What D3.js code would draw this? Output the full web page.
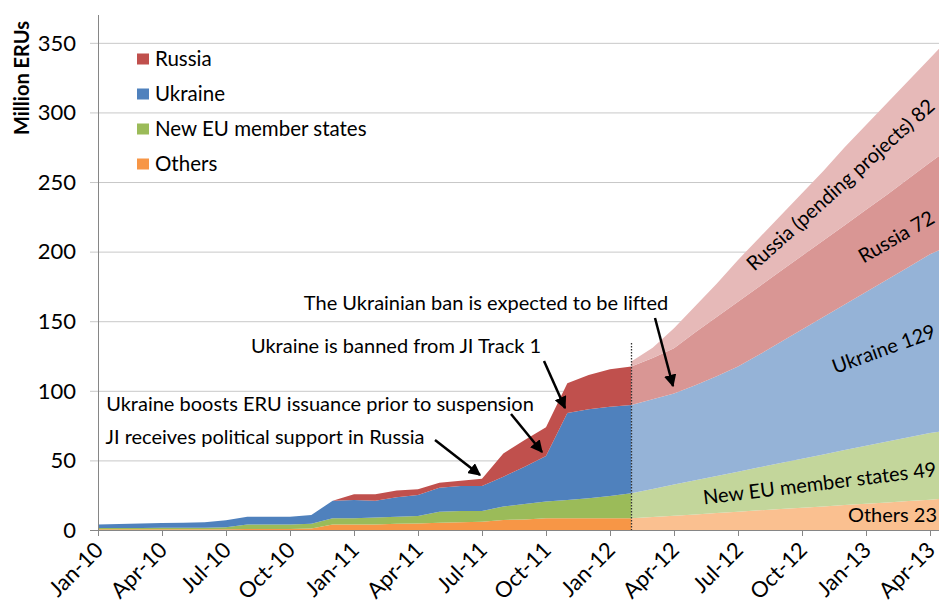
<!DOCTYPE html>
<html>
<head>
<script src="https://cdnjs.cloudflare.com/ajax/libs/d3/7.8.5/d3.min.js"></script>
<style>
  body { margin: 0; background: #fff; }
  svg text { font-family: Lato, "Open Sans", sans-serif; fill: #000; }
  .grid { stroke: #c8c8c8; stroke-width: 1; }
  .axis-line { stroke: #868686; stroke-width: 1; }
</style>
</head>
<body>
<div id="chart"></div>
<script>
const width = 939, height = 608;

// x is a month index: 0 = Jan-10 ... 39 = Apr-13
const tickLabels = ["Jan-10", "Apr-10", "Jul-10", "Oct-10", "Jan-11", "Apr-11", "Jul-11",
                    "Oct-11", "Jan-12", "Apr-12", "Jul-12", "Oct-12", "Jan-13", "Apr-13"];
const yTicks = [0, 50, 100, 150, 200, 250, 300, 350];

// issued ERUs, million (stacked layers), Jan-10 .. Feb-12
const histStart = 0;
const histOthers  = [0.5, 0.5, 0.5, 0.5, 0.5, 0.5, 0.6, 0.8, 0.8, 0.8, 1.0, 4.0, 4.0, 4.0, 4.5, 4.7, 5.2, 5.5, 6.0, 7.2, 7.6, 8.4, 8.4, 8.4, 8.4, 8.4];
const histNewEU   = [1.0, 1.0, 1.0, 1.1, 1.1, 1.2, 1.4, 3.2, 3.2, 3.2, 3.5, 4.4, 4.4, 4.9, 5.1, 5.3, 8.0, 8.2, 7.7, 9.6, 11.1, 12.0, 13.2, 14.4, 16.0, 18.0];
const histUkraine = [2.5, 2.8, 3.2, 3.4, 3.6, 3.8, 5.0, 5.6, 5.6, 5.6, 6.3, 12.6, 13.1, 12.1, 13.9, 15.2, 17.2, 17.9, 17.9, 21.5, 26.8, 32.8, 62.4, 63.9, 64.2, 63.4];
const histRussia  = [0, 0, 0, 0, 0, 0, 0, 0, 0, 0, 0, 0, 4.1, 4.6, 4.8, 4.0, 3.6, 3.8, 5.2, 16.7, 19.2, 20.6, 21.5, 24.7, 26.9, 27.6];

// projected ERUs, million (stacked layers), Feb-12 .. May-13
const projStart = 25;
const projOthers  = [8.4, 9.3, 10.3, 11.2, 12.2, 13.1, 14.1, 15.0, 16.0, 16.9, 17.9, 18.8, 19.8, 20.8, 21.8, 23.0];
const projNewEU   = [18.0, 20.2, 22.3, 24.5, 26.6, 28.8, 30.9, 33.1, 35.2, 37.4, 39.5, 41.7, 43.8, 45.9, 47.9, 49.0];
const projUkraine = [63.4, 64.5, 65.4, 68.3, 71.7, 75.5, 81.0, 86.9, 92.8, 98.7, 104.6, 110.5, 116.4, 122.3, 128.5, 133.0];
const projRussia  = [27.6, 29.5, 32.5, 38.0, 42.5, 46.6, 49.0, 51.0, 53.0, 55.0, 57.0, 59.0, 61.0, 63.5, 65.8, 70.0];
const projRussiaPending = [3.6, 7.5, 14.5, 19.0, 24.0, 30.0, 35.0, 40.0, 45.0, 50.0, 56.0, 61.0, 66.0, 70.5, 75.0, 80.0];

const legendNames = ["Russia", "Ukraine", "New EU member states", "Others"];
const histColors = { russia: "#C0504D", ukraine: "#4F81BD", neweu: "#9BBB59", others: "#F79646" };
const projColors = { pending: "#E6B9B8", russia: "#D99694", ukraine: "#95B3D7", neweu: "#C3D69B", others: "#FAC090" };

const x = d3.scaleLinear().domain([0, 39]).range([98, 930]);
const y = d3.scaleLinear().domain([0, 370]).range([530, 15]);

const svg = d3.select("#chart").append("svg")
    .attr("width", width).attr("height", height);

// gridlines
svg.append("g").selectAll("line")
    .data(yTicks.slice(1))
    .enter().append("line")
    .attr("class", "grid")
    .attr("x1", 90).attr("x2", width)
    .attr("y1", d => y(d) + 0.5).attr("y2", d => y(d) + 0.5);

// stacked areas
const histRows = histOthers.map((v, i) => ({
    m: histStart + i, others: v, neweu: histNewEU[i], ukraine: histUkraine[i], russia: histRussia[i]
}));
const projRows = projOthers.map((v, i) => ({
    m: projStart + i, others: v, neweu: projNewEU[i], ukraine: projUkraine[i],
    russia: projRussia[i], pending: projRussiaPending[i]
}));

const area = d3.area()
    .x(d => x(d.data.m))
    .y0(d => y(d[0]))
    .y1(d => y(d[1]));

const histStack = d3.stack().keys(["others", "neweu", "ukraine", "russia"])(histRows);
const projStack = d3.stack().keys(["others", "neweu", "ukraine", "russia", "pending"])(projRows);

svg.append("g").selectAll("path")
    .data(projStack)
    .enter().append("path")
    .attr("d", area)
    .attr("fill", d => projColors[d.key]);

svg.append("g").selectAll("path")
    .data(histStack)
    .enter().append("path")
    .attr("d", area)
    .attr("fill", d => histColors[d.key]);

// axes
svg.append("line").attr("class", "axis-line")
    .attr("x1", 98.5).attr("x2", 98.5).attr("y1", 15).attr("y2", 530);
svg.append("line").attr("class", "axis-line")
    .attr("x1", 90).attr("x2", width).attr("y1", 530.5).attr("y2", 530.5);

svg.append("g").selectAll("line")
    .data(tickLabels)
    .enter().append("line")
    .attr("class", "axis-line")
    .attr("x1", (d, i) => Math.round(x(i * 3)) + 0.5)
    .attr("x2", (d, i) => Math.round(x(i * 3)) + 0.5)
    .attr("y1", 530).attr("y2", 536);

svg.append("g").selectAll("text")
    .data(yTicks)
    .enter().append("text")
    .attr("x", 76).attr("y", d => y(d))
    .attr("dy", "0.35em")
    .attr("text-anchor", "end")
    .style("font-size", "22px")
    .text(d => d);

svg.append("g").selectAll("text")
    .data(tickLabels)
    .enter().append("text")
    .attr("transform", (d, i) => `translate(${x(i * 3) + 1},${546}) rotate(-45)`)
    .attr("text-anchor", "end")
    .attr("dy", "0.35em")
    .style("font-size", "22px")
    .text(d => d);

svg.append("text")
    .attr("transform", "translate(22,78) rotate(-90)")
    .attr("text-anchor", "middle")
    .attr("dy", "0.35em")
    .style("font-size", "20px")
    .style("font-weight", "bold")
    .text("Million ERUs");

// dotted line where the projection starts
svg.append("line")
    .attr("x1", Math.round(x(projStart)) + 0.5).attr("x2", Math.round(x(projStart)) + 0.5)
    .attr("y1", 343).attr("y2", 530)
    .attr("stroke", "#333").attr("stroke-width", 1.3)
    .attr("stroke-dasharray", "1.5,1.5");

// legend
const legendKeys = ["russia", "ukraine", "neweu", "others"];
const legend = svg.append("g").selectAll("g")
    .data(legendNames)
    .enter().append("g")
    .attr("transform", (d, i) => `translate(137,${59 + i * 35})`);
legend.append("rect")
    .attr("x", 0).attr("y", -5.5).attr("width", 12).attr("height", 11)
    .attr("fill", (d, i) => histColors[legendKeys[i]]);
legend.append("text")
    .attr("x", 18).attr("dy", "0.35em")
    .style("font-size", "20.5px")
    .text(d => d);

// annotations with arrows
svg.append("defs").append("marker")
    .attr("id", "arrow")
    .attr("viewBox", "0 0 10 10")
    .attr("refX", 9).attr("refY", 5)
    .attr("markerWidth", 5).attr("markerHeight", 5)
    .attr("orient", "auto")
    .append("path").attr("d", "M0,0 L10,5 L0,10 z").attr("fill", "#000");

const notes = [
    { text: "The Ukrainian ban is expected to be lifted", tx: 486, ty: 310, x1: 655, y1: 318, x2: 673, y2: 386 },
    { text: "Ukraine is banned from JI Track 1", tx: 396, ty: 353, x1: 544, y1: 361, x2: 565, y2: 408 },
    { text: "Ukraine boosts ERU issuance prior to suspension", tx: 320, ty: 411, x1: 511, y1: 414, x2: 542, y2: 452 },
    { text: "JI receives political support in Russia", tx: 265, ty: 444, x1: 435, y1: 440, x2: 480, y2: 475 }
];
svg.append("g").selectAll("text")
    .data(notes)
    .enter().append("text")
    .attr("x", d => d.tx).attr("y", d => d.ty)
    .attr("text-anchor", "middle")
    .style("font-size", "20px")
    .text(d => d.text);
svg.append("g").selectAll("line")
    .data(notes)
    .enter().append("line")
    .attr("x1", d => d.x1).attr("y1", d => d.y1)
    .attr("x2", d => d.x2).attr("y2", d => d.y2)
    .attr("stroke", "#000").attr("stroke-width", 2.5)
    .attr("marker-end", "url(#arrow)");

// labels on the projected layers
const layerLabels = [
    { text: "Russia (pending projects) 82", x: 936, y: 108, angle: -42 },
    { text: "Russia 72", x: 936, y: 222, angle: -30 },
    { text: "Ukraine 129", x: 937, y: 337, angle: -20 },
    { text: "New EU member states 49", x: 937, y: 476, angle: -7 },
    { text: "Others 23", x: 937, y: 522, angle: 0 }
];
svg.append("g").selectAll("text")
    .data(layerLabels)
    .enter().append("text")
    .attr("transform", d => `translate(${d.x},${d.y}) rotate(${d.angle})`)
    .attr("text-anchor", "end")
    .style("font-size", "20px")
    .text(d => d.text);
</script>
</body>
</html>
